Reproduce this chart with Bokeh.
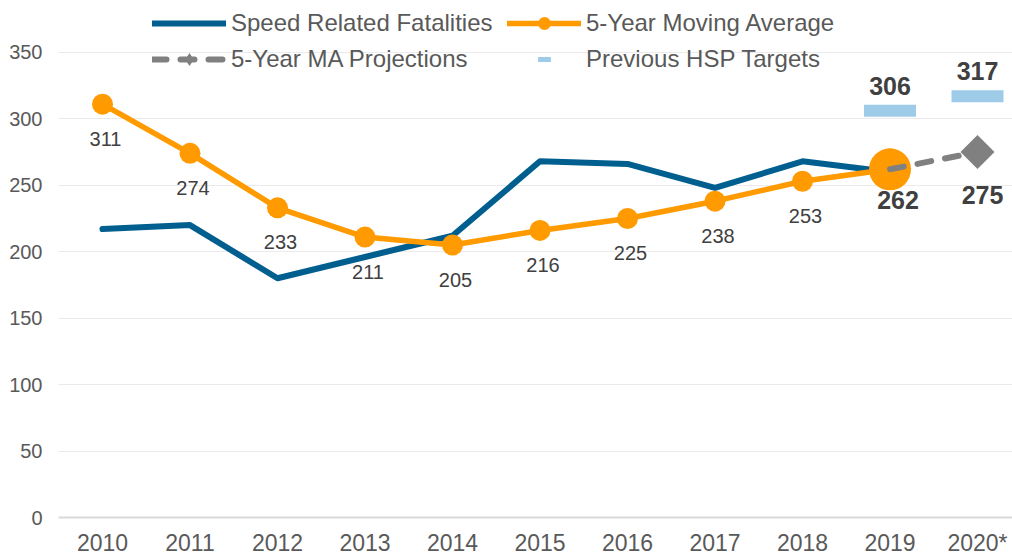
import math
from bokeh.plotting import figure
from bokeh.models import Range1d, FixedTicker, Legend, LegendItem
from bokeh.embed import file_html
from bokeh.resources import INLINE
from bokeh.core.properties import value

# ---------------- data ----------------
years = ["2010", "2011", "2012", "2013", "2014", "2015", "2016", "2017", "2018", "2019", "2020*"]
speed_years = ["2010", "2011", "2012", "2013", "2014", "2015", "2016", "2017", "2018", "2019"]
speed_fatalities = [217, 220, 180, 196, 212, 268, 266, 248, 268, 260]
ma_years = ["2010", "2011", "2012", "2013", "2014", "2015", "2016", "2017", "2018", "2019"]
moving_average = [311, 274, 233, 211, 205, 216, 225, 238, 253, 262]
projection_years = ["2019", "2020*"]
projection_values = [262, 275]
hsp_years = ["2019", "2020*"]
hsp_targets = [306, 317]
y_ticks = [0, 50, 100, 150, 200, 250, 300, 350]

BLUE = "#005F8F"
ORANGE = "#FF9A00"
GREY = "#808080"
LIGHTBLUE = "#9DCBE8"
FONT = "Liberation Sans"


def pos(labels):
    return [years.index(v) for v in labels]


sx = pos(speed_years)
mx = pos(ma_years)
px = pos(projection_years)
hx = pos(hsp_years)

p = figure(width=1012, height=558,
           x_range=Range1d(-0.503, 10.4), y_range=Range1d(0, 389),
           output_backend="svg", toolbar_location=None,
           min_border_left=58, min_border_right=0, min_border_top=0, min_border_bottom=39)
p.outline_line_color = None
p.background_fill_color = "white"
p.xgrid.grid_line_color = None
p.ygrid.grid_line_color = "#EBEBEB"
p.ygrid.grid_line_width = 1

p.yaxis.ticker = FixedTicker(ticks=y_ticks)
p.yaxis.axis_line_color = None
p.yaxis.major_tick_line_color = None
p.yaxis.minor_tick_line_color = None
p.yaxis.major_tick_out = 0
p.yaxis.major_tick_in = 0
p.yaxis.major_label_standoff = 16
p.yaxis.major_label_text_font = FONT
p.yaxis.major_label_text_font_size = "20px"
p.yaxis.major_label_text_color = "#595959"

p.xaxis.ticker = FixedTicker(ticks=list(range(len(years))))
p.xaxis.major_label_overrides = {i: y for i, y in enumerate(years)}
p.xaxis.axis_line_color = "#D9D9D9"
p.xaxis.axis_line_width = 2
p.xaxis.major_tick_line_color = None
p.xaxis.minor_tick_line_color = None
p.xaxis.major_tick_out = 0
p.xaxis.major_tick_in = 0
p.xaxis.major_label_standoff = 12
p.xaxis.major_label_text_font = FONT
p.xaxis.major_label_text_font_size = "23px"
p.xaxis.major_label_text_color = "#595959"

# ---------------- series ----------------
r_speed = p.line(sx, speed_fatalities, line_color=BLUE, line_width=6,
                 line_join="round", line_cap="round")
r_ma = p.line(mx, moving_average, line_color=ORANGE, line_width=5.5,
              line_join="round", line_cap="round")
r_ma_pts = p.scatter(mx[:-1], moving_average[:-1], marker="circle", size=21,
                     fill_color=ORANGE, line_color=None)
p.scatter(mx[-1:], moving_average[-1:], marker="circle", size=42,
          fill_color=ORANGE, line_color=None)
r_proj = p.line(px, projection_values, line_color=GREY, line_width=6,
                line_dash="14 14", line_cap="round")
p.scatter(px[1:], projection_values[1:], marker="square", angle=math.pi / 4,
          size=24, fill_color=GREY, line_color=None)
r_diamond_legend = p.scatter(px[1:], projection_values[1:], marker="diamond", size=0,
                             fill_color=GREY, line_color=None)
p.rect(hx, hsp_targets, width=0.594, height=12, height_units="screen",
       fill_color=LIGHTBLUE, line_color=None)
r_hsp_legend = p.scatter(hx, hsp_targets, marker="dash", size=0,
                         line_color=LIGHTBLUE, line_width=5)

# ---------------- labels ----------------
p.text(mx[:-1], moving_average[:-1], text=[str(v) for v in moving_average[:-1]],
       x_offset=3, y_offset=34.5, text_align="center", text_baseline="middle",
       text_font=value(FONT), text_font_size="20px", text_color="#404040")
p.text(mx[-1:], moving_average[-1:], text=[str(v) for v in moving_average[-1:]],
       x_offset=8, y_offset=31, text_align="center", text_baseline="middle",
       text_font=value(FONT), text_font_size="25px", text_font_style="bold",
       text_color="#404040")
p.text(px[1:], projection_values[1:], text=[str(v) for v in projection_values[1:]],
       x_offset=5, y_offset=43, text_align="center", text_baseline="middle",
       text_font=value(FONT), text_font_size="25px", text_font_style="bold",
       text_color="#404040")
p.text(hx, hsp_targets, text=[str(v) for v in hsp_targets],
       x_offset=0, y_offset=-25, text_align="center", text_baseline="middle",
       text_font=value(FONT), text_font_size="25px", text_font_style="bold",
       text_color="#404040")

# ---------------- legends ----------------
def make_legend(items, loc):
    return Legend(items=items, location=loc, orientation="vertical",
                  glyph_width=74, glyph_height=32, label_height=32, label_standoff=5,
                  spacing=4, padding=0, margin=0, border_line_color=None,
                  background_fill_alpha=0, label_text_font=FONT,
                  label_text_font_size="24px", label_text_color="#595959")


leg_a = make_legend([
    LegendItem(label="Speed Related Fatalities", renderers=[r_speed]),
    LegendItem(label="5-Year MA Projections", renderers=[r_proj, r_diamond_legend]),
], (94, 442))
leg_b = make_legend([
    LegendItem(label="5-Year Moving Average", renderers=[r_ma, r_ma_pts]),
    LegendItem(label="Previous HSP Targets", renderers=[r_hsp_legend]),
], (449, 442))
p.add_layout(leg_a)
p.add_layout(leg_b)

open("out.html", "w").write(file_html(p, INLINE))
